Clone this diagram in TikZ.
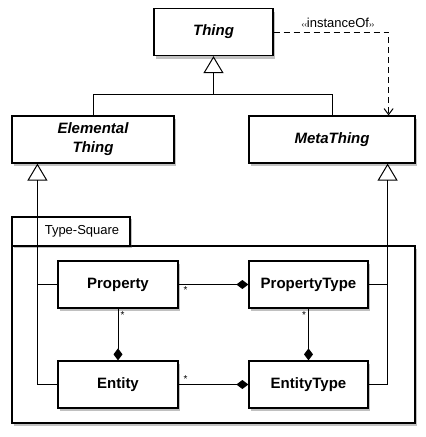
\documentclass[tikz,border=0pt]{standalone}
\usepackage{fontspec}
\setmainfont{Liberation Sans}
\usetikzlibrary{arrows.meta,shadows,positioning}

\tikzset{
  umlclass/.style={draw, fill=white, line width=1.2pt, minimum height=47pt, inner sep=0pt, align=center,
    font=\fontsize{15}{19}\selectfont\bfseries,
    drop shadow={shadow xshift=1.5pt, shadow yshift=-3pt, opacity=0.35, fill=black!70}},
  abstractclass/.style={umlclass, font=\fontsize{15}{19}\selectfont\bfseries\itshape},
  link/.style={line width=1pt},
  gen/.style={link, -{Triangle[open, length=17pt, width=20pt, line width=1pt]}},
  comp/.style={link, -{Diamond[length=12pt, width=9pt]}},
  dep/.style={link, dash pattern=on 6pt off 4pt, -{Straight Barb[length=6pt, width=9pt, line width=1pt]}},
  mult/.style={font=\fontsize{10}{10}\selectfont, inner sep=2pt}
}
\newcommand{\smallguil}[1]{{\fontsize{8}{8}\selectfont #1}}

\begin{document}
\begin{tikzpicture}[x=1pt, y=-1pt]
  \useasboundingbox (0,0) rectangle (426,437);

  % Drawing package Type-Square
  \node[draw, fill=white, line width=1.2pt, minimum width=403pt, minimum height=177pt, inner sep=0pt,
    drop shadow={shadow xshift=1.5pt, shadow yshift=-3pt, opacity=0.35, fill=black!70}]
    (pkg) at (213.5,334.5) {};
  \node[draw, fill=white, line width=1.2pt, minimum width=118pt, minimum height=29pt, inner sep=0pt,
    font=\fontsize{13}{15}\selectfont,
    drop shadow={shadow xshift=1.5pt, shadow yshift=-2pt, opacity=0.35, fill=black!70}]
    (pkgtab) at (71,231.5) {\hspace*{22pt}Type-Square};

  % Drawing classes
  \node[abstractclass, minimum width=119pt] (thing) at (213.5,32) {Thing};
  \node[abstractclass, minimum width=162pt] (elem) at (93,139.5) {Elemental\\Thing};
  \node[abstractclass, minimum width=166pt] (meta) at (332,139.5) {MetaThing};
  \node[umlclass, minimum width=120pt] (property) at (118,284.5) {Property};
  \node[umlclass, minimum width=120pt] (entity) at (118,384.5) {Entity};
  \node[umlclass, minimum width=119pt] (ptype) at (308.5,284.5) {PropertyType};
  \node[umlclass, minimum width=119pt] (etype) at (308.5,384.5) {EntityType};

  % Drawing generalization Thing
  \draw[link] (elem.north) -- ++(0,-21) -| (meta.north);
  \draw[gen] ([yshift=21pt]elem.north -| thing.south) -- (thing.south);

  % Drawing dependency instanceOf
  \draw[dep] (thing.east) -| ([xshift=-27pt]meta.north east)
    node[pos=0.28, above, inner sep=4pt, font=\fontsize{13}{14}\selectfont]
    {\smallguil{‹‹}instanceOf\smallguil{››}};

  % Drawing generalization Elemental Thing
  \coordinate (elemfoot) at ([xshift=26pt]elem.south west);
  \draw[gen] (entity.west) -| (elemfoot);
  \draw[link] (property.west) -- (property.west -| elemfoot);

  % Drawing generalization MetaThing
  \coordinate (metafoot) at ([xshift=-28pt]meta.south east);
  \draw[gen] (etype.east) -| (metafoot);
  \draw[link] (ptype.east) -- (ptype.east -| metafoot);

  % Drawing compositions
  \draw[comp] (property.south) -- (entity.north) node[mult, pos=0.12, right] {*};
  \draw[comp] (ptype.south) -- (etype.north) node[mult, pos=0.12, left] {*};
  \draw[comp] (property.east) -- (ptype.west) node[mult, pos=0.1, below] {*};
  \draw[comp] (entity.east) -- (etype.west) node[mult, pos=0.1, above] {*};
\end{tikzpicture}
\end{document}
